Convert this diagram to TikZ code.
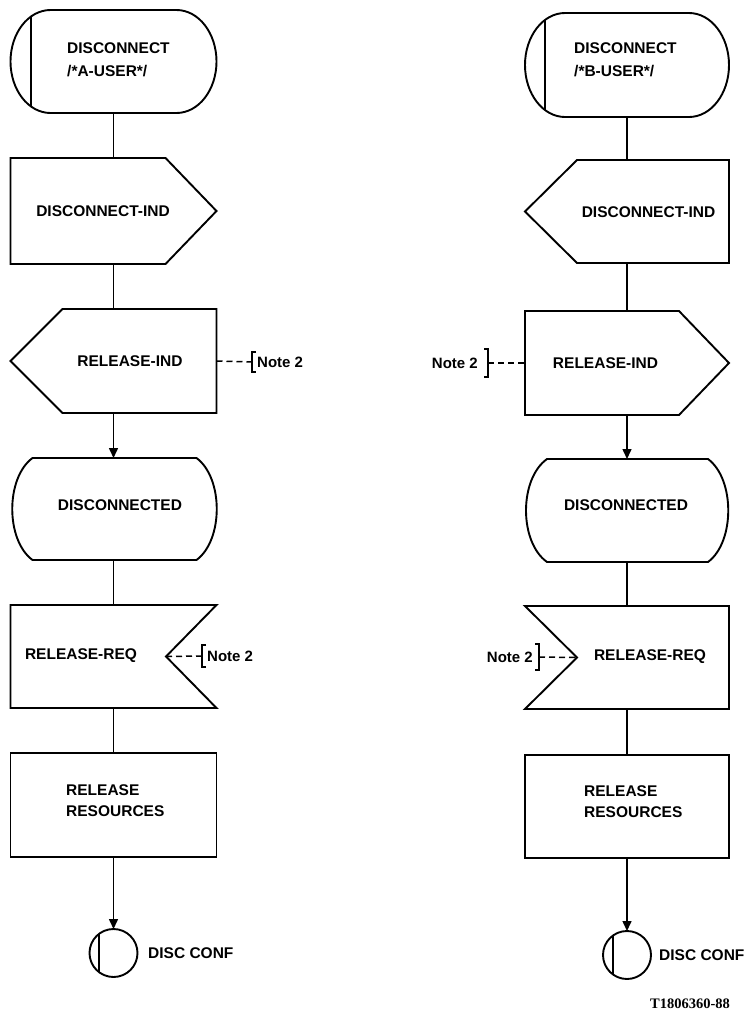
\documentclass[tikz,border=0pt]{standalone}
\usepackage{fontspec}
\setmainfont{Liberation Sans}
\newfontfamily\serifbold{Liberation Serif}
\usetikzlibrary{arrows.meta,calc}
\begin{document}
\begin{tikzpicture}[x=1pt,y=-1pt,
  sym/.style={draw, line width=1.9pt, line join=miter},
  frame/.style={inner sep=0pt, outer sep=0pt, minimum width=206pt},
  rframe/.style={inner sep=0pt, outer sep=0pt, minimum width=204pt},
  conn/.style={line width=1.5pt},
  arr/.style={conn, -{Triangle[length=10pt,width=9pt]}},
  lbl/.style={inner sep=0pt, font=\bfseries\fontsize{15.5}{23}\selectfont, align=left},
  lbltwo/.style={inner sep=0pt, font=\bfseries\fontsize{15.5}{21}\selectfont, align=left},
  notelbl/.style={inner sep=0pt, font=\bfseries\fontsize{15}{18}\selectfont},
  notedash/.style={line width=1.5pt, dash pattern=on 6pt off 4pt},
  brk/.style={line width=1.9pt},
  conncircle/.style={circle, draw, line width=1.9pt, minimum size=48pt, inner sep=0pt, outer sep=0pt},
]
\useasboundingbox (0,0) rectangle (747,1015);

% ---------------- left column ----------------
\node[frame, minimum height=103pt] (a1) at (113.5,61.5) {};
\node[frame, minimum height=106pt] (a2) at (113.5,211) {};
\node[frame, minimum height=104pt] (a3) at (113.5,361) {};
\node[frame, minimum height=102pt] (a4) at (113.5,509) {};
\node[frame, minimum height=103pt] (a5) at (113.5,656.5) {};
\node[frame, minimum height=104pt, draw, line width=1.9pt] (a6) at (113.5,805) {};
\node[conncircle] (a7) at (113.5,953) {};

% start (terminator)
\draw[sym] ([xshift=40pt]a1.north west) -- ([xshift=-40pt]a1.north east)
  arc[start angle=90,end angle=-90,x radius=40pt,y radius=51.5pt]
  -- ([xshift=40pt]a1.south west)
  arc[start angle=270,end angle=90,x radius=40pt,y radius=51.5pt] -- cycle;
\draw[sym] (31,16.5) -- (31,106.5);
% output signal
\draw[sym] (a2.north west) -- ([xshift=-51pt]a2.north east) -- (a2.east)
  -- ([xshift=-51pt]a2.south east) -- (a2.south west) -- cycle;
% input signal
\draw[sym] ([xshift=52pt]a3.north west) -- (a3.north east) -- (a3.south east)
  -- ([xshift=52pt]a3.south west) -- (a3.west) -- cycle;
% state
\draw[sym] (32.5,458) -- (196.5,458) .. controls (223.5,478) and (223.5,540) .. (196.5,560)
  -- (32.5,560) .. controls (5.5,540) and (5.5,478) .. (32.5,458) -- cycle;
% notched symbol
\draw[sym] (a5.north west) -- (a5.north east) -- ([xshift=-50.5pt]a5.east)
  -- (a5.south east) -- (a5.south west) -- cycle;
\coordinate (a5v) at ([xshift=-50.5pt]a5.east);
% connector symbol line
\draw[sym] (99,934.3) -- (99,971.7);

\draw[conn] (a1.south) -- (a2.north);
\draw[conn] (a2.south) -- (a3.north);
\draw[arr] (a3.south) -- (a4.north);
\draw[conn] (a4.south) -- (a5.north);
\draw[conn] (a5.south) -- (a6.north);
\draw[arr] (a6.south) -- (a7.north);

\node[lbl, anchor=west] (a1t) at (67,59.5) {DISCONNECT\\/*A-USER*/};
\node[lbl] (a2t) at (103,211) {DISCONNECT-IND};
\node[lbl] (a3t) at (130,361) {RELEASE-IND};
\node[lbl] (a4t) at (120,505) {DISCONNECTED};
\node[lbl] (a5t) at (81,656) {RELEASE-REQ};
\node[lbltwo, anchor=west] (a6t) at (66,800.5) {RELEASE\\RESOURCES};
\node[lbl, anchor=west] (a7t) at (148,953) {DISC CONF};

% notes left
\node[notelbl, anchor=west] (na3) at (257,362) {Note 2};
\draw[brk] ($(na3.west)+(-1,-10)$) -- ++(-4,0) -- ++(0,20) -- ++(4,0);
\draw[notedash] (a3.east) -- ($(na3.west)+(-5,0)$);
\node[notelbl, anchor=west] (na5) at (207,656) {Note 2};
\draw[brk] ($(na5.west)+(-1,-11)$) -- ++(-4,0) -- ++(0,22) -- ++(4,0);
\draw[notedash] ($(na5.west)+(-5,0)$) -- (a5v);

% ---------------- right column ----------------
\node[rframe, minimum height=104pt] (b1) at (627,65) {};
\node[rframe, minimum height=103pt] (b2) at (627,211.5) {};
\node[rframe, minimum height=104pt] (b3) at (627,363) {};
\node[rframe, minimum height=103pt] (b4) at (627,510.5) {};
\node[rframe, minimum height=103pt] (b5) at (627,657.5) {};
\node[rframe, minimum height=103pt, draw, line width=1.9pt] (b6) at (627,806.5) {};
\node[conncircle] (b7) at (627,955) {};

\draw[sym] ([xshift=40pt]b1.north west) -- ([xshift=-40pt]b1.north east)
  arc[start angle=90,end angle=-90,x radius=40pt,y radius=52pt]
  -- ([xshift=40pt]b1.south west)
  arc[start angle=270,end angle=90,x radius=40pt,y radius=52pt] -- cycle;
\draw[sym] (545,20) -- (545,110);
% input signal
\draw[sym] ([xshift=52pt]b2.north west) -- (b2.north east) -- (b2.south east)
  -- ([xshift=52pt]b2.south west) -- (b2.west) -- cycle;
% output signal
\draw[sym] (b3.north west) -- ([xshift=-50pt]b3.north east) -- (b3.east)
  -- ([xshift=-50pt]b3.south east) -- (b3.south west) -- cycle;
% state
\draw[sym] (547,459) -- (708,459) .. controls (735,479) and (735,542) .. (708,562)
  -- (547,562) .. controls (519,542) and (519,479) .. (547,459) -- cycle;
% notched symbol (left)
\draw[sym] (b5.north west) -- (b5.north east) -- (b5.south east)
  -- (b5.south west) -- ([xshift=52pt]b5.west) -- cycle;
\coordinate (b5v) at ([xshift=52pt]b5.west);
\draw[sym] (613,935.5) -- (613,974.5);

\draw[conn] (b1.south) -- (b2.north);
\draw[conn] (b2.south) -- (b3.north);
\draw[arr] (b3.south) -- (b4.north);
\draw[conn] (b4.south) -- (b5.north);
\draw[conn] (b5.south) -- (b6.north);
\draw[arr] (b6.south) -- (b7.north);

\node[lbl, anchor=west] (b1t) at (574,59.5) {DISCONNECT\\/*B-USER*/};
\node[lbl] (b2t) at (648.5,212) {DISCONNECT-IND};
\node[lbl] (b3t) at (605.5,363) {RELEASE-IND};
\node[lbl] (b4t) at (626,505) {DISCONNECTED};
\node[lbl] (b5t) at (650,657) {RELEASE-REQ};
\node[lbltwo, anchor=west] (b6t) at (584,802) {RELEASE\\RESOURCES};
\node[lbl, anchor=west] (b7t) at (659,955) {DISC CONF};

% notes right
\node[notelbl, anchor=east] (nb3) at (478,363) {Note 2};
\draw[brk] ($(nb3.east)+(6,-14)$) -- ++(4,0) -- ++(0,28) -- ++(-4,0);
\draw[notedash] ($(nb3.east)+(10,0)$) -- (b3.west);
\node[notelbl, anchor=east] (nb5) at (533,657) {Note 2};
\draw[brk] ($(nb5.east)+(2,-13)$) -- ++(4,0) -- ++(0,26) -- ++(-4,0);
\draw[notedash] ($(nb5.east)+(6,0)$) -- (b5v);

\node[inner sep=0pt, font=\serifbold\bfseries\fontsize{14.5}{16}\selectfont] (fig) at (690,1004) {T1806360-88};
\end{tikzpicture}
\end{document}
